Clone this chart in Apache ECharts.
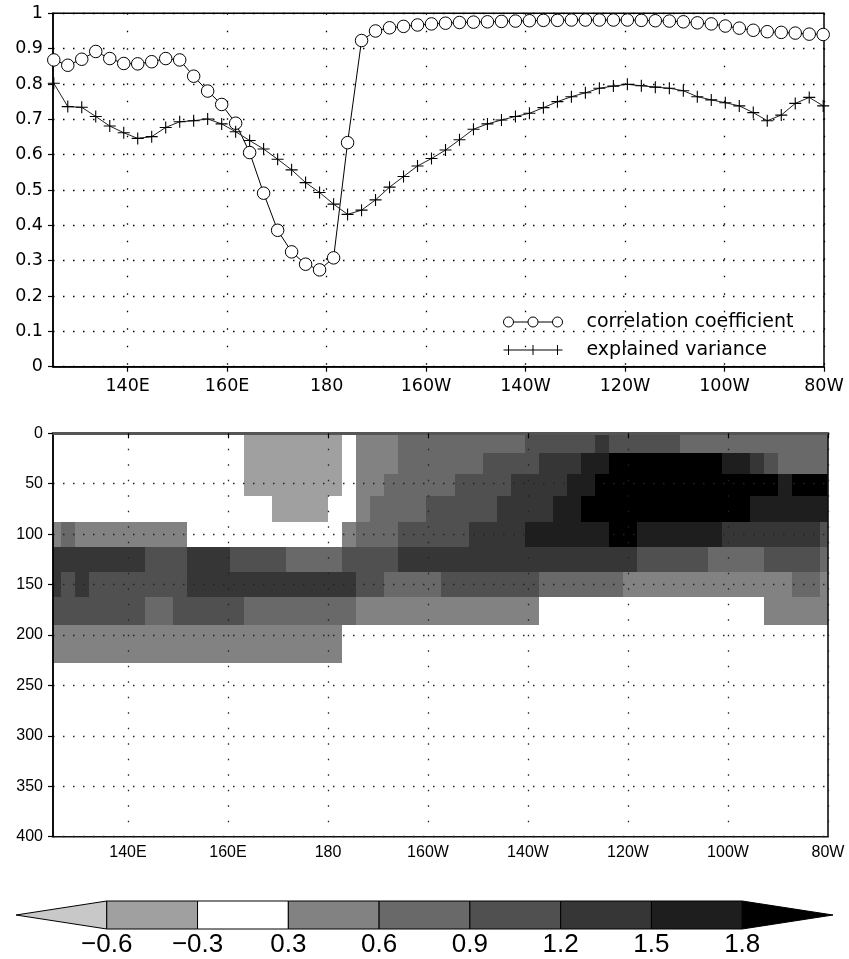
<!DOCTYPE html>
<html>
<head>
<meta charset="utf-8">
<script src="https://cdn.jsdelivr.net/npm/echarts@6/dist/echarts.min.js"></script>
<style>
html, body { margin: 0; padding: 0; background: #fff; }
#chart { width: 849px; height: 959px; }
</style>
</head>
<body>
<div id="chart"></div>
<script>
// Longitude grid (degrees east), 2.8125-degree spacing
const lons = [125.16,127.97,130.78,133.59,136.41,139.22,142.03,144.84,147.66,150.47,153.28,156.09,158.91,161.72,164.53,167.34,170.16,172.97,175.78,178.59,181.41,184.22,187.03,189.84,192.66,195.47,198.28,201.09,203.91,206.72,209.53,212.34,215.16,217.97,220.78,223.59,226.41,229.22,232.03,234.84,237.66,240.47,243.28,246.09,248.91,251.72,254.53,257.34,260.16,262.97,265.78,268.59,271.41,274.22,277.03,279.84];

// Upper panel series
const corrCoef = [0.868,0.853,0.870,0.892,0.872,0.858,0.857,0.863,0.872,0.868,0.822,0.780,0.742,0.689,0.606,0.491,0.386,0.325,0.290,0.274,0.308,0.634,0.923,0.950,0.959,0.963,0.967,0.970,0.972,0.974,0.975,0.976,0.977,0.978,0.979,0.980,0.980,0.981,0.981,0.981,0.981,0.981,0.980,0.979,0.978,0.976,0.973,0.970,0.964,0.958,0.952,0.948,0.946,0.944,0.941,0.940];
const explVar = [0.802,0.736,0.734,0.708,0.681,0.662,0.646,0.651,0.677,0.693,0.696,0.701,0.687,0.665,0.640,0.616,0.587,0.557,0.521,0.493,0.460,0.431,0.443,0.472,0.508,0.538,0.568,0.589,0.613,0.642,0.672,0.687,0.698,0.708,0.717,0.733,0.750,0.764,0.775,0.788,0.794,0.799,0.795,0.791,0.788,0.781,0.764,0.755,0.747,0.738,0.719,0.696,0.712,0.745,0.762,0.738];

// Axis ticks
const lonTicks = [140,160,180,200,220,240,260,280];

// Lower panel: depth levels (m) and values per level along the longitude grid
const depthLevels = [10,30,50,75,100,125,150,175,205,250];
const lev10 = [0,0,0,0,0,0,0,0,0,0,0,0,0,0,-0.45,-0.45,-0.45,-0.45,-0.45,-0.45,-0.45,0,0.45,0.45,0.45,0.75,0.75,0.75,0.75,0.75,0.75,0.75,0.75,0.75,1.05,1.05,1.05,1.05,1.05,1.35,1.05,1.05,1.05,1.05,1.05,0.75,0.75,0.75,0.75,0.75,0.75,0.75,0.75,0.75,0.75,0.75];
const lev30 = [0,0,0,0,0,0,0,0,0,0,0,0,0,0,-0.45,-0.45,-0.45,-0.45,-0.45,-0.45,-0.45,0,0.45,0.45,0.45,0.75,0.75,0.75,0.75,0.75,0.75,1.05,1.05,1.05,1.05,1.35,1.35,1.35,1.65,1.65,1.95,1.95,1.95,1.95,1.95,1.95,1.95,1.95,1.65,1.65,1.35,1.05,0.75,0.75,0.75,0.75];
const lev50 = [0,0,0,0,0,0,0,0,0,0,0,0,0,0,-0.45,-0.45,-0.45,-0.45,-0.45,-0.45,-0.45,0,0.45,0.45,0.75,0.75,0.75,0.75,0.75,1.05,1.05,1.05,1.05,1.35,1.35,1.35,1.35,1.65,1.65,1.95,1.95,1.95,1.95,1.95,1.95,1.95,1.95,1.95,1.95,1.95,1.95,1.95,1.65,1.95,1.95,1.95];
const lev75 = [0,0,0,0,0,0,0,0,0,0,0,0,0,0,0,0,-0.45,-0.45,-0.45,-0.45,0,0,0.45,0.75,0.75,0.75,0.75,1.05,1.05,1.05,1.05,1.05,1.35,1.35,1.35,1.35,1.65,1.65,1.95,1.95,1.95,1.95,1.95,1.95,1.95,1.95,1.95,1.95,1.95,1.95,1.65,1.65,1.65,1.65,1.65,1.65];
const lev100 = [0.45,0.75,0.45,0.45,0.45,0.45,0.45,0.45,0.45,0.45,0,0,0,0,0,0,0,0,0,0,0,0.45,0.75,0.75,0.75,1.05,1.05,1.05,1.05,1.05,1.35,1.35,1.35,1.35,1.65,1.65,1.65,1.65,1.65,1.65,1.95,1.95,1.65,1.65,1.65,1.65,1.65,1.65,1.35,1.35,1.35,1.35,1.35,1.35,1.35,1.05];
const lev125 = [1.35,1.35,1.35,1.35,1.35,1.35,1.35,1.05,1.05,1.05,1.35,1.35,1.35,1.05,1.05,1.05,1.05,0.75,0.75,0.75,0.75,1.05,1.05,1.05,1.05,1.35,1.35,1.35,1.35,1.35,1.35,1.35,1.35,1.35,1.35,1.35,1.35,1.35,1.35,1.35,1.35,1.35,1.05,1.05,1.05,1.05,1.05,0.75,0.75,0.75,0.75,1.05,1.05,1.05,1.05,0.75];
const lev150 = [1.35,1.05,1.35,1.05,1.05,1.05,1.05,1.05,1.05,1.05,1.35,1.35,1.35,1.35,1.35,1.35,1.35,1.35,1.35,1.35,1.35,1.35,1.05,1.05,0.75,0.75,0.75,0.75,1.05,1.05,1.05,1.05,1.05,1.05,1.05,0.75,0.75,0.75,0.75,0.75,0.75,0.45,0.45,0.45,0.45,0.45,0.45,0.45,0.45,0.45,0.45,0.45,0.45,0.75,0.75,0.45];
const lev175 = [1.05,1.05,1.05,1.05,1.05,1.05,1.05,0.75,0.75,1.05,1.05,1.05,1.05,1.05,0.75,0.75,0.75,0.75,0.75,0.75,0.75,0.75,0.45,0.45,0.45,0.45,0.45,0.45,0.45,0.45,0.45,0.45,0.45,0.45,0.45,0,0,0,0,0,0,0,0,0,0,0,0,0,0,0,0,0.45,0.45,0.45,0.45,0.45];
const lev205 = [0.45,0.45,0.45,0.45,0.45,0.45,0.45,0.45,0.45,0.45,0.45,0.45,0.45,0.45,0.45,0.45,0.45,0.45,0.45,0.45,0.45,0,0,0,0,0,0,0,0,0,0,0,0,0,0,0,0,0,0,0,0,0,0,0,0,0,0,0,0,0,0,0,0,0,0,0];
const lev250 = [0,0,0,0,0,0,0,0,0,0,0,0,0,0,0,0,0,0,0,0,0,0,0,0,0,0,0,0,0,0,0,0,0,0,0,0,0,0,0,0,0,0,0,0,0,0,0,0,0,0,0,0,0,0,0,0];
const levelRows = [lev10, lev30, lev50, lev75, lev100, lev125, lev150, lev175, lev205, lev250];

// Shading classes
const shadeLevels = [-0.6,-0.3,0.3,0.6,0.9,1.2,1.5,1.8];
const shadeColors = ['#c8c8c8','#a0a0a0','#ffffff','#828282','#696969','#505050','#363636','#1e1e1e','#000000'];

function shadeIndex(v) {
  let k = 0;
  while (k < shadeLevels.length && v >= shadeLevels[k]) k++;
  return k;
}

const fmtLon = v => v < 180 ? v + 'E' : (v === 180 ? '180' : (360 - v) + 'W');

function cellEdges(arr, i) {
  const c = arr[i];
  const prev = i > 0 ? arr[i - 1] : 2 * c - arr[i + 1];
  const next = i < arr.length - 1 ? arr[i + 1] : 2 * c - arr[i - 1];
  return [(prev + c) / 2, (c + next) / 2];
}

const heatData = [];
levelRows.forEach((row, j) => {
  row.forEach((v, i) => heatData.push([lons[i], depthLevels[j], v, i, j]));
});

const circleIcon = 'path://M0,5A5,5,0,1,0,10,5A5,5,0,1,0,0,5Z M10,5L24.5,5 M24.5,5A5,5,0,1,0,34.5,5A5,5,0,1,0,24.5,5Z M34.5,5L49,5 M49,5A5,5,0,1,0,59,5A5,5,0,1,0,49,5Z';
const plusIcon = 'path://M0,5L59,5M5,0L5,10M29.5,0L29.5,10M54,0L54,10';

const topFont = { color: '#000', fontSize: 17.5, fontFamily: 'DejaVu Sans' };
const lowFont = { color: '#000', fontSize: 16, fontFamily: 'Liberation Sans' };

const chart = echarts.init(document.getElementById('chart'), null, { renderer: 'canvas' });

chart.setOption({
  animation: false,
  backgroundColor: '#fff',
  grid: [
    { left: 53, top: 13.3, right: 25, height: 353.4, show: true, borderColor: '#000', borderWidth: 1.5, backgroundColor: 'transparent' },
    { left: 53, top: 433.3, right: 21, height: 403.4, show: true, borderColor: '#111', borderWidth: 1.6, backgroundColor: 'transparent', z: 5 },
    { left: 16, top: 901, right: 16, height: 28 }
  ],
  legend: {
    orient: 'vertical',
    left: 498,
    top: 307,
    itemWidth: 59,
    itemHeight: 10,
    itemGap: 8,
    symbolKeepAspect: false,
    itemStyle: { color: '#fff', borderColor: '#000', borderWidth: 1 },
    textStyle: { color: '#000', fontSize: 19, fontFamily: 'DejaVu Sans', lineHeight: 20, padding: [0, 0, 0, 19] },
    data: [
      { name: 'correlation coefficient', icon: circleIcon },
      { name: 'explained variance', icon: plusIcon }
    ]
  },
  xAxis: [
    {
      type: 'value', gridIndex: 0, min: 125, max: 280,
      axisLine: { show: true, lineStyle: { color: '#000', width: 1.5 } },
      axisTick: { show: true, customValues: lonTicks, length: 5, lineStyle: { color: '#000', width: 1.2 } },
      axisLabel: Object.assign({ customValues: lonTicks, formatter: fmtLon, margin: 11 }, topFont),
      splitLine: { show: true, lineStyle: { color: '#000', width: 1.3, type: [1.5, 16] } }
    },
    {
      type: 'value', gridIndex: 1, min: 125, max: 280, z: 6,
      axisLine: { show: true, lineStyle: { color: '#555', width: 3 } },
      axisTick: { show: true, customValues: lonTicks, length: 5, lineStyle: { color: '#000', width: 1.2 } },
      axisLabel: Object.assign({ customValues: lonTicks, formatter: fmtLon, margin: 8 }, lowFont),
      splitLine: { show: true, lineStyle: { color: '#222', width: 1.3, type: [1.5, 14] } }
    },
    {
      type: 'value', gridIndex: 2, min: 0, max: 9,
      axisLine: { show: false }, axisTick: { show: false }, splitLine: { show: false },
      axisLabel: {
        customValues: [1, 2, 3, 4, 5, 6, 7, 8],
        margin: 3,
        color: '#000', fontSize: 26, fontFamily: 'Liberation Sans',
        formatter: v => {
          const t = shadeLevels[Math.round(v) - 1];
          return (t < 0 ? '\u2212' : '') + Math.abs(t).toFixed(1);
        }
      }
    }
  ],
  yAxis: [
    {
      type: 'value', gridIndex: 0, min: 0, max: 1, interval: 0.1,
      axisLine: { show: true, lineStyle: { color: '#000', width: 1.5 } },
      axisTick: { show: true, length: 5, lineStyle: { color: '#000', width: 1.2 } },
      axisLabel: Object.assign({ margin: 10 }, topFont),
      splitLine: { show: true, lineStyle: { color: '#000', width: 1.3, type: [1.5, 8.5] } }
    },
    {
      type: 'value', gridIndex: 1, min: 0, max: 400, interval: 50, inverse: true, z: 6,
      axisLine: { show: true, lineStyle: { color: '#000', width: 1.5 } },
      axisTick: { show: true, length: 5, lineStyle: { color: '#000', width: 1.2 } },
      axisLabel: Object.assign({ margin: 10 }, lowFont),
      splitLine: { show: true, lineStyle: { color: '#222', width: 1.3, type: [1.5, 8.5] } }
    },
    { type: 'value', gridIndex: 2, min: 0, max: 1, show: false }
  ],
  series: [
    {
      name: 'correlation coefficient',
      type: 'line', xAxisIndex: 0, yAxisIndex: 0,
      data: lons.map((x, i) => [x, corrCoef[i]]),
      symbol: 'circle', symbolSize: 12.5, showAllSymbol: true,
      itemStyle: { color: '#fff', borderColor: '#000', borderWidth: 1 },
      lineStyle: { color: '#000', width: 1 },
      z: 3
    },
    {
      name: 'explained variance',
      type: 'line', xAxisIndex: 0, yAxisIndex: 0,
      data: lons.map((x, i) => [x, explVar[i]]),
      symbol: 'path://M0,5L10,5M5,0L5,10', symbolSize: 12, showAllSymbol: true,
      itemStyle: { color: '#000', borderColor: '#000', borderWidth: 1.1 },
      lineStyle: { color: '#222', width: 1 },
      z: 3
    },
    {
      name: 'regression',
      type: 'custom', xAxisIndex: 1, yAxisIndex: 1,
      data: heatData,
      renderItem: (params, api) => {
        const v = api.value(2);
        const k = shadeIndex(v);
        if (shadeColors[k] === '#ffffff') return null;
        const i = api.value(3), j = api.value(4);
        const [x0, x1] = cellEdges(lons, i);
        const [y0, y1] = cellEdges(depthLevels, j);
        const p0 = api.coord([x0, y0]);
        const p1 = api.coord([x1, y1]);
        // snap cell edges to whole pixels so neighbouring cells meet without seams
        const l = Math.round(Math.min(p0[0], p1[0]));
        const r = Math.round(Math.max(p0[0], p1[0]));
        const t = Math.round(Math.min(p0[1], p1[1]));
        const b = Math.round(Math.max(p0[1], p1[1]));
        const cs = params.coordSys;
        const shape = echarts.graphic.clipRectByRect(
          { x: l, y: t, width: r - l, height: b - t },
          { x: cs.x, y: cs.y, width: cs.width, height: cs.height }
        );
        if (!shape) return null;
        return { type: 'rect', shape: shape, style: { fill: shadeColors[k] } };
      },
      z: 2
    },
    {
      name: 'colorbar',
      type: 'custom', xAxisIndex: 2, yAxisIndex: 2,
      data: shadeColors.map((c, i) => [i, 0]),
      renderItem: (params, api) => {
        const i = api.value(0);
        const a = api.coord([i, 1]);
        const b = api.coord([i + 1, 0]);
        const mid = (a[1] + b[1]) / 2;
        const style = { fill: shadeColors[i], stroke: '#000', lineWidth: 1 };
        if (i === 0) {
          return { type: 'polygon', shape: { points: [[a[0], mid], [b[0], a[1]], [b[0], b[1]]] }, style: style };
        }
        if (i === shadeColors.length - 1) {
          return { type: 'polygon', shape: { points: [[a[0], a[1]], [b[0], mid], [a[0], b[1]]] }, style: style };
        }
        return { type: 'rect', shape: { x: a[0], y: a[1], width: b[0] - a[0], height: b[1] - a[1] }, style: style };
      }
    }
  ]
});
</script>
</body>
</html>
